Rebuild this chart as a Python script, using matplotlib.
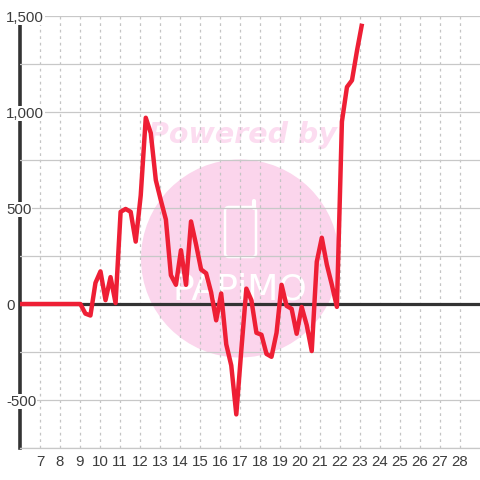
import matplotlib
matplotlib.use("Agg")
import matplotlib.pyplot as plt
from matplotlib.patches import Circle, FancyBboxPatch

plt.rcParams['font.family'] = ['Liberation Sans', 'DejaVu Sans']

# Hours, about one reading every 15 minutes
hours = [6.000, 6.252, 6.503, 6.755, 7.006, 7.258, 7.509, 7.761, 8.012, 8.264, 8.515, 8.767,
         9.018, 9.270, 9.521, 9.773, 10.024, 10.276, 10.527, 10.779, 11.030, 11.282, 11.533, 11.785,
         12.036, 12.288, 12.539, 12.791, 13.042, 13.294, 13.545, 13.797, 14.048, 14.300, 14.551, 14.803,
         15.054, 15.306, 15.557, 15.809, 16.060, 16.312, 16.563, 16.815, 17.066, 17.318, 17.569, 17.821,
         18.072, 18.324, 18.575, 18.827, 19.078, 19.330, 19.581, 19.833, 20.084, 20.336, 20.587, 20.839,
         21.090, 21.342, 21.593, 21.845, 22.096, 22.348, 22.599, 22.851, 23.102]
values = [0, 0, 0, 0, 0, 0, 0, 0, 0, 0, 0, 0,
          0, -50, -60, 110, 170, 20, 140, 5, 480, 495, 480, 325,
          565, 970, 890, 645, 540, 440, 150, 100, 280, 100, 430, 310,
          180, 160, 60, -85, 55, -210, -320, -575, -240, 80, 20, -150,
          -160, -260, -275, -150, 100, -10, -25, -155, -15, -110, -245, 220,
          345, 205, 100, -15, 950, 1130, 1165, 1320, 1460]

x_ticks = list(range(7, 29))
y_ticks = [-750, -500, -250, 0, 250, 500, 750, 1000, 1250, 1500]
y_labels = ['', '-500', '', '0', '', '500', '', '1,000', '', '1,500']

fig = plt.figure(figsize=(4.8, 4.8), dpi=100)

# Watermark sits behind the chart, in pixel coordinates
bg = fig.add_axes([0, 0, 1, 1], zorder=0)
bg.set_xlim(0, 480)
bg.set_ylim(480, 0)
bg.axis('off')
bg.add_patch(Circle((240, 258.5), 99, color='#fbd5ec', lw=0))
bg.text(242, 135, 'Powered by', color='#fcdcf0', fontsize=20.5, fontweight='bold',
        fontstyle='italic', family='DejaVu Sans', ha='center', va='center')
bg.add_patch(FancyBboxPatch((225, 207), 31, 50, boxstyle='round,pad=0,rounding_size=4',
                            fc='none', ec='white', lw=1.8))
bg.plot([254, 254], [201, 208], color='white', lw=3, solid_capstyle='round')
bg.text(240, 289, 'PAPiMO', color='white', fontsize=26, ha='center', va='center',
        family='DejaVu Sans')

ax = fig.add_axes([20 / 480, 1 - 448 / 480, 460 / 480, 432 / 480], zorder=1)
ax.patch.set_alpha(0)

ax.set_xlim(6, 29)
ax.set_ylim(-750, 1500)
ax.set_xticks(x_ticks)
ax.set_yticks(y_ticks)
ax.set_yticklabels(y_labels)
ax.tick_params(length=0, labelsize=10.8, labelcolor='#3c3c3c')
ax.tick_params(axis='x', pad=5)
ax.tick_params(axis='y', pad=10)

ax.set_axisbelow(True)
ax.grid(axis='y', color='#c8c8c8', lw=0.9)
ax.grid(axis='x', color='#c4c4c4', lw=0.9, ls=(0, (2.2, 3)))

for side in ['top', 'right']:
    ax.spines[side].set_visible(False)
ax.spines['bottom'].set_color('#c8c8c8')
ax.spines['bottom'].set_linewidth(0.9)
ax.spines['left'].set_color('#333333')
ax.spines['left'].set_linewidth(2.6)
ax.spines['left'].set_zorder(0.4)

# y labels cover the axis line with a white box, as in the original
for label in ax.get_yticklabels():
    label.set_ha('left')
    if label.get_text():
        label.set_bbox(dict(fc='white', ec='none', pad=0.5))

ax.axhline(0, color='#333333', lw=2.3, zorder=1)
ax.plot(hours, values, color='#ee1f35', lw=3.2, zorder=3, clip_on=False,
        solid_joinstyle='round', solid_capstyle='butt')

plt.savefig('out.png', dpi=100)
